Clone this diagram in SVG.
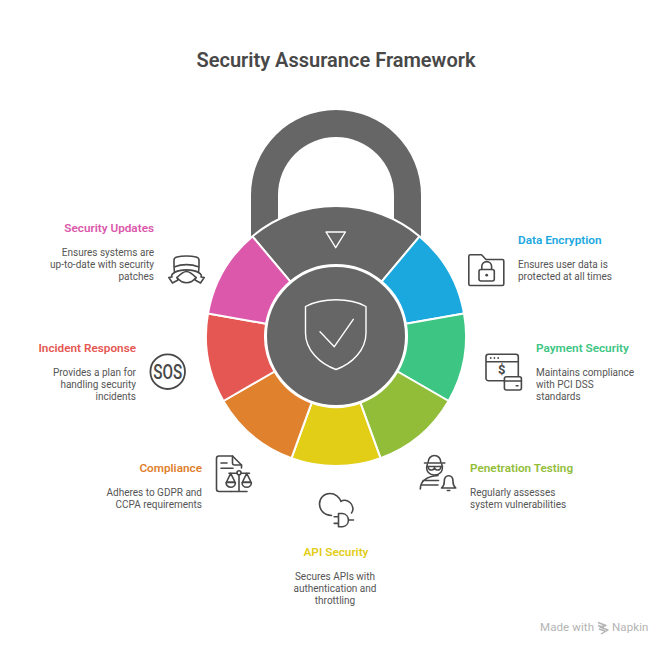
<svg xmlns="http://www.w3.org/2000/svg" width="672" height="654" viewBox="0 0 672 654">
<style>
text{font-family:Roboto,"Liberation Sans",sans-serif}
.title{font-size:20px;font-weight:600;fill:#484848;text-anchor:middle}
.h{font-size:11.750px;font-weight:600}
.b{font-size:10px;fill:#555}
.r{text-anchor:end}
.m{text-anchor:middle}
.seg{stroke:#fff;stroke-width:2;stroke-linejoin:round}
.ic{fill:none;stroke:#484848;stroke-width:1.600;stroke-linecap:round;stroke-linejoin:round}
.w{fill:none;stroke:#fff;stroke-width:1.400;stroke-linecap:round;stroke-linejoin:round}
.foot{font-size:11.500px;fill:#b4b4b4;letter-spacing:.1px}
</style>
<rect width="672" height="654" fill="#fff"/>
<text class="title" x="336" y="67">Security Assurance Framework</text>

<g id="lock">
<path fill="#666" d="M251,240V195A85,85 0 0 1 421,195V240H394V195A58,58 0 0 0 278,195V240Z"/>
<path id="seg-top" class="seg" fill="#666" d="M252.400,236.400A130,130 0 0 1 419.600,236.400L381.600,281.600A71,71 0 0 0 290.400,281.600Z"/>
<path class="w" d="M326,232H345.400L335.700,247.700Z"/>
</g>
<g id="segments">
<path class="seg" fill="#1AA8DF" d="M419.600,236.400A130,130 0 0 1 464,313.400L405.900,323.700A71,71 0 0 0 381.600,281.600Z"/>
<path class="seg" fill="#3CC583" d="M464,313.400A130,130 0 0 1 448.600,401L397.500,371.500A71,71 0 0 0 405.900,323.700Z"/>
<path class="seg" fill="#92BD39" d="M448.600,401A130,130 0 0 1 380.500,458.200L360.300,402.700A71,71 0 0 0 397.500,371.500Z"/>
<path class="seg" fill="#E2CD17" d="M380.500,458.200A130,130 0 0 1 291.500,458.200L311.700,402.700A71,71 0 0 0 360.300,402.700Z"/>
<path class="seg" fill="#E0812E" d="M291.500,458.200A130,130 0 0 1 223.400,401L274.500,371.500A71,71 0 0 0 311.700,402.700Z"/>
<path class="seg" fill="#E55753" d="M223.400,401A130,130 0 0 1 208,313.400L266.100,323.700A71,71 0 0 0 274.500,371.500Z"/>
<path class="seg" fill="#DB58AA" d="M208,313.400A130,130 0 0 1 252.400,236.400L290.400,281.600A71,71 0 0 0 266.100,323.700Z"/>
</g>
<g id="hub">
<circle cx="336" cy="336" r="70" fill="#666" stroke="#fff" stroke-width="2"/>
<path class="w" d="M305.500,306.500C315,301.500 326,299.800 336,299.800C346,299.800 357,301.500 366,306.500V333C366,350 352,364 336,369.500C320,364 305.500,350 305.500,333Z"/>
<path class="w" d="M320,331.700L334.300,346.700L353.300,319.300"/>
</g>

<g id="node-data-encryption">
<path class="ic" d="M468.800,256.300a1.500,1.500 0 0 1 1.500,-1.500H481.500L486,259.500H502.300a1.500,1.500 0 0 1 1.500,1.500V284a1.500,1.500 0 0 1 -1.500,1.500H470.300a1.500,1.500 0 0 1 -1.500,-1.500Z"/>
<rect class="ic" x="479" y="269.500" width="15.300" height="11.500" rx="2"/>
<path class="ic" d="M481.800,269.500V266.500a4.900,4.900 0 0 1 9.800,0V269.500"/>
<circle cx="486.700" cy="275.200" r="1.400" fill="#484848"/>
<text class="h" x="518" y="244" fill="#1AA8DF">Data Encryption</text>
<text class="b" x="518" y="268">Ensures user data is</text>
<text class="b" x="518" y="280">protected at all times</text>
</g>

<g id="node-payment-security">
<path class="ic" d="M504,380.700H488.500a2.500,2.500 0 0 1 -2.500,-2.500V356.800a2.500,2.500 0 0 1 2.500,-2.500H515.800a2.500,2.500 0 0 1 2.500,2.500V376.500M486,361.800H518.300"/>
<circle cx="490.700" cy="358" r=".9" fill="#484848"/><circle cx="494.400" cy="358" r=".9" fill="#484848"/><circle cx="498.200" cy="358" r=".9" fill="#484848"/>
<text x="501.800" y="374" font-size="13" font-weight="700" fill="#484848" text-anchor="middle">$</text>
<rect class="ic" x="504.400" y="376.700" width="17" height="13.300" rx="2"/>
<path class="ic" d="M504.400,381H521.400M516.200,385.800H518"/>
<text class="h" x="536" y="352" fill="#3CC583">Payment Security</text>
<text class="b" x="536" y="376">Maintains compliance</text>
<text class="b" x="536" y="388">with PCI DSS</text>
<text class="b" x="536" y="400">standards</text>
</g>

<g id="node-penetration-testing">
<path class="ic" d="M424.500,463H444.800M428,463C428,453 441,453 441,463M427.300,464.500C425,472 430,475 434.500,475C439,475 444,472 441.800,464.500"/>
<path class="ic" d="M426.800,466.500H442.500M428,466.500Q428.500,470.500 432,470Q434.500,469.500 434.500,467.500Q434.500,469.500 437,470Q440.500,470.500 441,466.500"/>
<path class="ic" d="M420.300,489C420.300,481 427,476.500 438,475.500M423,480.500H438.500M421,485H438"/>
<path class="ic" d="M441.500,488H455.800C453.500,486 453,484 453,481.500C453,477.800 451,475.800 448.700,475.800C446.300,475.800 444.300,477.800 444.300,481.500C444.300,484 443.800,486 441.500,488ZM447.300,490.500H449.800"/>
<text class="h" x="470" y="472" fill="#92BD39">Penetration Testing</text>
<text class="b" x="470" y="496">Regularly assesses</text>
<text class="b" x="470" y="508">system vulnerabilities</text>
</g>

<g id="node-api-security">
<path class="ic" d="M331.500,515.500C324,515 319.500,510 319.500,504C319.500,498 324,493.500 330,493.500C335,493.500 339.500,497 341,501.500C343,499.500 347,500 350,502.500C353,505 354,510 351.500,513"/>
<path class="ic" d="M338.500,513.500H342.500A6.700,6.700 0 0 1 342.500,526.800H338.500ZM334.200,516.800H338.500M334.200,523.400H338.500M349,520H353.500"/>
<text class="h m" x="336" y="556" fill="#E2CD17">API Security</text>
<text class="b m" x="335" y="580">Secures APIs with</text>
<text class="b m" x="335" y="592">authentication and</text>
<text class="b m" x="335" y="604">throttling</text>
</g>

<g id="node-compliance">
<path class="ic" d="M241.500,468V465L232.500,456H219a2.500,2.500 0 0 0 -2.500,2.500V489a2.500,2.500 0 0 0 2.500,2.500H231"/>
<path class="ic" d="M232.500,456V463a2,2 0 0 0 2,2H241.500M221,463H227M221,468.300H233"/>
<circle class="ic" cx="239" cy="472.700" r="2"/>
<path class="ic" d="M239,474.700V491M231,491.500H247M229,473.300H237M241,473.300H249.500"/>
<path class="ic" d="M230.700,473.300L226.500,482H235ZM226,482.500a4.700,4.700 0 0 0 9.400,0ZM246.700,473.300L242.500,482H251ZM242,482.500a4.700,4.700 0 0 0 9.400,0Z"/>
<text class="h r" x="202" y="472" fill="#E0812E">Compliance</text>
<text class="b r" x="202" y="496">Adheres to GDPR and</text>
<text class="b r" x="202" y="508">CCPA requirements</text>
</g>

<g id="node-incident-response">
<circle cx="167.700" cy="371.700" r="17.300" fill="none" stroke="#484848" stroke-width="1.800"/>
<text x="167.700" y="379.200" font-size="21" font-weight="500" fill="#484848" text-anchor="middle" textLength="29" lengthAdjust="spacingAndGlyphs">SOS</text>
<text class="h r" x="136" y="352" fill="#E55753">Incident Response</text>
<text class="b r" x="136" y="376">Provides a plan for</text>
<text class="b r" x="136" y="388">handling security</text>
<text class="b r" x="136" y="400">incidents</text>
</g>

<g id="node-security-updates">
<path class="ic" d="M174,267V260C174,258 175,257.500 177,257C182,255.700 191,255.700 196,257C198,257.500 199,258 199,260V267C191,264 182,264 174,267ZM174,267L174.500,272.500M199,267L198.500,272.500"/>
<path class="ic" d="M174.500,272.500C172,274 171,275.500 172,277L168.800,277.500L172.500,283L178,280L177,277.500C179,275.500 183,271.500 186.500,271.500C190,271.500 194,275.500 196,277.500L195,280L200.500,283L204.200,277.500L201,277C202,275.500 201,274 198.500,272.500C193,269 180,269 174.500,272.500Z"/>
<path class="ic" d="M177,277.500C180,281.500 183,282.700 186.500,282.700C190,282.700 193,281.500 196,277.500"/>
<text class="h r" x="154" y="232" fill="#DB58AA">Security Updates</text>
<text class="b r" x="154" y="256">Ensures systems are</text>
<text class="b r" x="154" y="268">up-to-date with security</text>
<text class="b r" x="154" y="280">patches</text>
</g>

<g id="watermark">
<text class="foot" x="540" y="631">Made with</text>
<path d="M598,622.500L606,625.500L600,627L608,630L601,634M598,625.500L604,627.500M599,629L605,631" fill="none" stroke="#b4b4b4" stroke-width="1.400" stroke-linejoin="round"/>
<text class="foot" x="612" y="631">Napkin</text>
</g>
</svg>
